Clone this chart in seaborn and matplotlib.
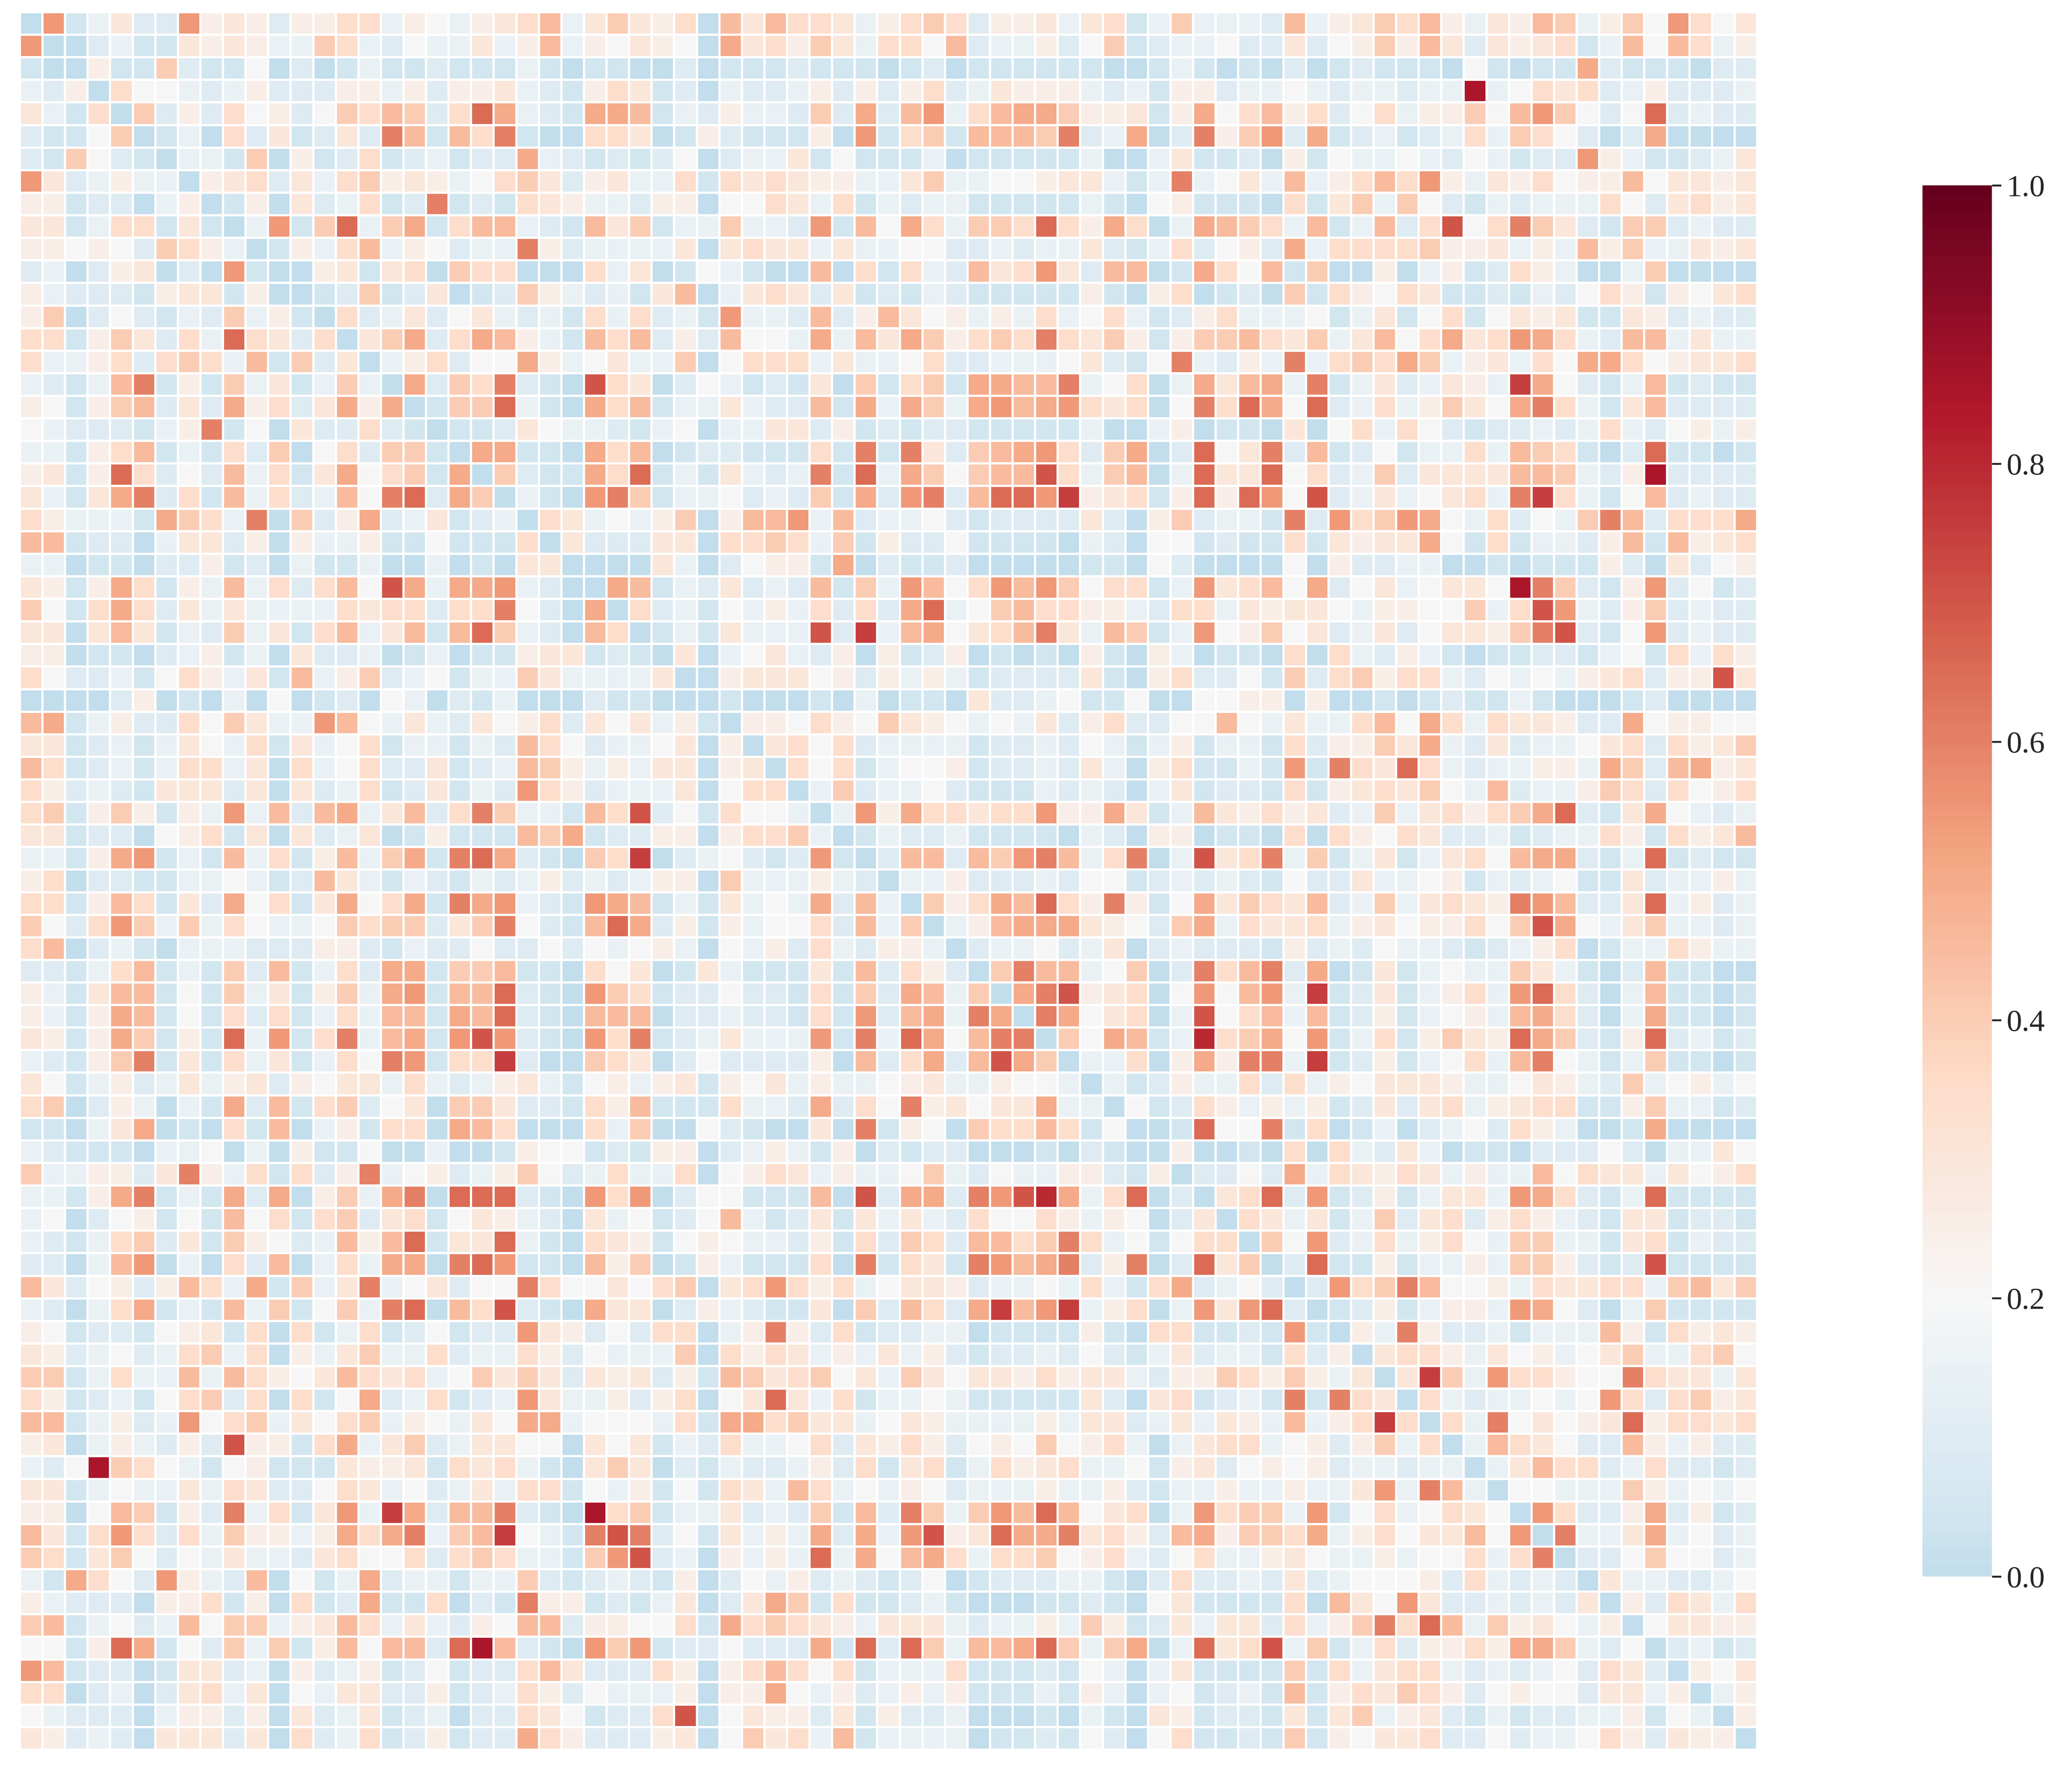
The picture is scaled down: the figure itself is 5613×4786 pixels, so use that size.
import matplotlib
matplotlib.use("Agg")
import matplotlib.pyplot as plt
import numpy as np
import seaborn as sns

# cell values, one letter per cell in steps of 0.05 (a=0.0, u=1.0)
# the matrix is symmetric, so only the diagonal and the part right of it are kept
LEVELS = "abcdefghijklmnopqrstu"

upper_rows_a = [
    "albdgcclfgfcffhhdfedfghjdg igfhajgjhhgdfhihcffgdghbdi dddcjdfgihjfdgfjidfielheg",
    "aacdbbgfgfddihdceddgdfjdf egfeakghfigdhhejcddfceibcd deccgcefifjgcgfghbdjejhdf",
    "afbbicbbeacabdbbcbbbdbab baacabbbcbbbabcabbbbbbaabd babacabcbbbaebabbkcbbbacc",
    "aheedcdfcccffdfcffgdcbf hgbcadccdfcfcfhcdgfffdcdbf fcddedcddcddrdehghcdfcccd",
    "aicfchefceihjichnkdcbk kjbdcfddcickcjldhjkkiffgbf kehjfhcehdffiejliecencdcc",
    "abdahcgbcgcmjbjhmbaah hgabfcbbbfalbhibjjjimcdkac mfilckbcdbcdhdihecackaaaa",
    "addbiafbchbcdbcckdcb cbceacddgbebbbdabbbbbdaadg bbcafbeddedcedbcclfdbbcdg",
    "afghcgdhifgfdehigcf gddhbhghgffddgiddeefggdbdm degdjdfhjhlfdgfheffjeggfg",
    "abfagcdhbcmbcbhgfd dcffaeehgdhbdcddbbbbbdbaef bbbahbgidiecbdcdddhecghfg",
    "adlbindikbhjjdcbj gibddiddclbjekhdiihnhfkhad kjihdjbdjchoehmigcbiicdcc",
    "abfdhjdfecddmfcd dddgaghggdgddeeccdcddgcbdh cefckdhhhhiffgdfdjfiddgfg",
    "aafgbghaihhaaah dgabedbaajahbhdcjghlgcjjab khejbiaafadfbchfdaadiaaaa",
    "abcibcgabcifdc dbgjadghgcgbcbdcbbbbbfbafh abcaibhfehgbbcbdcehfbfegh",
    "ahcdgcegdcdbh dhcdblddcjcfjgefdfdhdehdbc fhdddebdgbehbegfgbbgfcdcc",
    "agikchkjfdbj hjcfcjeedkdjgkifhihmhgifbf iijhgidgjehkghlkhdcjjdgdd",
    "adfhceekfde gddiaehhhdgddehccdddegcbem dcfdmdhihkidfgdhekkhefggh",
    "akcihmcbao hgacedbcbgaibhibkkjjmdehad kgjkdmbdgcdgfdpkecbdjbcbb",
    "abiindbak hjbddgdccjbkdkidkljklhghae mhnkencdhdfigekmhdbgjcccc",
    "abbcgedd cbdeaddggcfbcbccbbbbbdaadf abbagaehdhecbccdcdhdcefdf",
    "akkbbak hjabccbbbhbmbmgcijklhcikac negmcjbcebddhdjihbacnbbab",
    "aicbbk hnbdbgdcdmbndkieijjohdijad nggnehcdicggggjjidcfrcccc",
    "adbal mibddecdcibkclmcjnnlpfghbf nfnleocdgdeghdmphdbejcdcc",
    "ahgd edfiafjjldjcddecbccccgcafi cddbmclhilkedhcedimjchhhk",
    "agc ccggahhihdibfccebbbbadcaee bcbbhbgfggkebhbddcfjbjfgh",
    "aa aagdaceffbkacbbcaaaaabbaec aaaaeafccddaababbbfcagcef",
    "a kjbdcgcdcjbidljehljliehhbd lghjekcegdeggermicbflcebc",
]

upper_rows_b = [
    "ahcdbedfdhchckndeijhhffdch hdgfggedffeeidholdcficdcc",
    "abdbgdddocpdjkeghjmgdjibd lefiegcdgceggfimocbelcdcc",
    "agadegdcfafbcfababafbafd abbahahdcfdbabbccbdebhdhf",
    "aafgggefcfdfdbccccgbafh ccebichifhhdcededfghcffog",
    "abaaabadabbagccdebbeaa eeffafaababcbbdbaaabcaaaa",
    "affehfeigfededgcfhcce ejedgddhjekhdhggfcckeffee",
    "aghehcddddbccdcedbdf bddbhcffigkdcgcddeghchfgi",
    "ahehbdeefbccdcgdafh bbdblbmhgnhdcddffdkicjkfg",
    "adicddecbbbdcdcadg bccbhbfghgiedjcddfihchefh",
    "adlfkhhghhlffkgbd jgfhfgcdidghfhikncbgkedcd",
    "abdccdbbbbadcaff abbahahfehgccdbcddhfbhfgj",
    "acjjcjilmjdhmad oghmdibdgbdghejkkcbdnbcbb",
    "addfcccdceebcd cdcbeccgddefbdcdebbgcddfd",
    "aifhkjnhfmfbe kgihgjcdidghgfmljccgndfcd",
    "adfjkkkgfeci kdhgghdfgeffheiokedgiddcd",
    "acddecdgacd cccbfcdceddcbcdfhabddhfdd",
    "aimjjdeiac mhjmckabgbdeddigdbacjbbaa",
    "akmofghae lejldpbcgbdfhdlnhcadjbbab",
    "amkeghad oehjdjbcfbdefdjkhcadkbbab",
    "aiekjbd qhikelbdhbfigfnkicbfncdbc",
    "addhaf kfmmdpbcfbdehdjmedbdibbab",
    "adbcf ddhchdfegggfddegfdcidefde",
    "aebc hfdfdfbcgcghdfghhbbfiddbc",
    "aab neembhabdacdechfdaabkaaaa",
    "af aabahahdcgdabbacccecaddge",
    "a cceckdhgfhgdfddjehggdgefh",
]

upper_rows_c = [
    "aghnclbcfbdggdlkhcbdnbbbb",
    "ahgdgbdicghcfhfdcbggbccb",
    "aielcdhdfhediiddbghbdcc",
    "acnbbfbddfdiifcbcobbbb",
    "aclhimjeefdhgghhdijgi",
    "abcfbdffdlkecadibbbb",
    "afdmfccdbdddjfbhfgf",
    "aghhfdgefdegiddhie",
    "agpidlhhfeemhggdg",
    "ahdcddedelhchifg",
    "ahdmegefgnfhhgh",
    "adjhgeccjfdfcc",
    "adgjhhcdhccbc",
    "aeedddifdede",
    "alhccfkcfbc",
    "amddgkdecd",
    "acceieecd",
    "agddccde",
    "afchgdh",
    "aeggff",
    "acdbc",
    "afeg",
    "adf",
    "af",
    "a",
]

colorbar_ticks = [0.0, 0.2, 0.4, 0.6, 0.8, 1.0]

upper_rows = [r.replace(" ", "") for r in upper_rows_a + upper_rows_b + upper_rows_c]
n = len(upper_rows)
matrix = np.zeros((n, n))
for i, row in enumerate(upper_rows):
    for k, letter in enumerate(row):
        matrix[i, i + k] = LEVELS.index(letter) * 0.05
        matrix[i + k, i] = matrix[i, i + k]

sns.set_theme(style="white")
plt.rcParams["font.family"] = ["Liberation Serif", "DejaVu Serif"]

W, H = 5613, 4786
fig = plt.figure(figsize=(W / 300, H / 300), dpi=300)
ax = fig.add_axes([54 / W, 1 - 4739 / H, 4706 / W, 4706 / H])
cax = fig.add_axes([5208 / W, 1 - 4270 / H, 188 / W, 3768 / H])

sns.heatmap(
    matrix,
    ax=ax,
    cbar_ax=cax,
    cmap="RdBu_r",
    center=0.2,
    vmin=0,
    vmax=1,
    linewidths=1,
    linecolor="white",
    xticklabels=False,
    yticklabels=False,
)

cax.set_yticks(colorbar_ticks)
cax.tick_params(right=True, length=6, width=1.25, labelsize=20, color=".15", labelcolor=".15")

fig.savefig("out.png", dpi=300)
